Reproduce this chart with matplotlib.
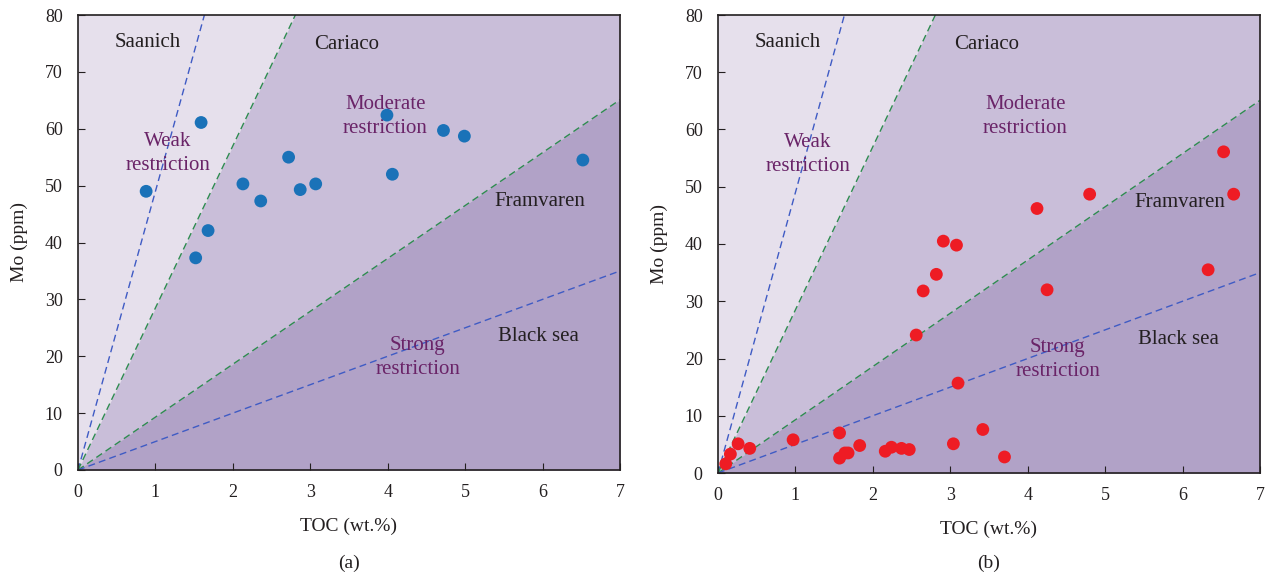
import numpy as np
import matplotlib
matplotlib.use("Agg")
import matplotlib.pyplot as plt

plt.rcParams['font.family'] = ['Liberation Serif', 'DejaVu Serif']

# Reference slopes Mo/TOC for the basins
saanich_slope = 49.0
cariaco_slope = 28.5
framvaren_slope = 9.3
blacksea_slope = 5.0

# Panel (a) samples
toc_a = [0.88, 1.59, 1.68, 1.52, 2.13, 2.36, 2.72, 2.87, 3.07, 3.99, 4.06, 4.72, 4.99, 6.52]
mo_a = [49.0, 61.1, 42.1, 37.3, 50.3, 47.3, 55.0, 49.3, 50.3, 62.4, 52.0, 59.7, 58.7, 54.5]

# Panel (b) samples
toc_b = [6.53, 4.80, 6.66, 4.12, 2.91, 3.08, 2.82, 2.65, 6.33, 4.25, 2.56, 3.10,
         3.42, 3.04, 3.70, 1.57, 1.57, 1.64, 1.68, 1.83, 0.97, 2.16, 2.24, 2.37,
         2.47, 0.26, 0.41, 0.16, 0.10]
mo_b = [56.1, 48.7, 48.7, 46.2, 40.5, 39.8, 34.7, 31.8, 35.5, 32.0, 24.1, 15.7,
        7.6, 5.1, 2.8, 7.0, 2.6, 3.5, 3.5, 4.8, 5.8, 3.8, 4.5, 4.3,
        4.1, 5.1, 4.3, 3.3, 1.6]

x_ticks = [0, 1, 2, 3, 4, 5, 6, 7]
y_ticks = [0, 10, 20, 30, 40, 50, 60, 70, 80]

c_weak = '#E6E0EC'
c_mod = '#C9BED9'
c_strong = '#B1A2C7'
c_blue = '#3F5BC4'
c_green = '#2E8B50'
c_purple = '#6A2468'
c_dark = '#231F20'

fig = plt.figure(figsize=(12.67, 5.78), dpi=100)
ax_a = fig.add_axes([78/1267, 1-470/578, 542/1267, 455/578])
ax_b = fig.add_axes([718/1267, 1-473/578, 542/1267, 458/578])


def draw_panel(ax, toc, mo, color, tag):
    xs = np.linspace(0, 7, 400)
    top = np.full_like(xs, 80.0)
    ax.fill_between(xs, 0, top, color=c_weak, lw=0, zorder=0)
    ax.fill_between(xs, 0, np.minimum(cariaco_slope * xs, 80), color=c_mod, lw=0, zorder=0)
    ax.fill_between(xs, 0, np.minimum(framvaren_slope * xs, 80), color=c_strong, lw=0, zorder=0)
    for s, c in [(saanich_slope, c_blue), (cariaco_slope, c_green),
                 (framvaren_slope, c_green), (blacksea_slope, c_blue)]:
        ax.plot(xs, s * xs, ls=(0, (5, 3)), color=c, lw=1.0, zorder=2)
    ax.scatter(toc, mo, s=85, color=color, zorder=4, edgecolors='none')

    fs = 15
    ls = 1.35
    ax.text(0.90, 75.2, 'Saanich', ha='center', va='center', fontsize=fs, color=c_dark)
    ax.text(3.47, 74.9, 'Cariaco', ha='center', va='center', fontsize=fs, color=c_dark)
    ax.text(3.97, 62.2, 'Moderate\nrestriction', ha='center', va='center', fontsize=fs,
            color=c_purple, linespacing=ls)
    ax.text(1.16, 55.6, 'Weak\nrestriction', ha='center', va='center', fontsize=fs,
            color=c_purple, linespacing=ls)
    ax.text(5.97, 47.2, 'Framvaren', ha='center', va='center', fontsize=fs, color=c_dark)
    ax.text(4.39, 19.8, 'Strong\nrestriction', ha='center', va='center', fontsize=fs,
            color=c_purple, linespacing=ls)
    ax.text(5.95, 23.4, 'Black sea', ha='center', va='center', fontsize=fs, color=c_dark)

    ax.set_xlim(0, 7)
    ax.set_ylim(0, 80)
    ax.set_xticks(x_ticks)
    ax.set_yticks(y_ticks)
    ax.tick_params(direction='in', length=5, labelsize=13, colors=c_dark)
    ax.tick_params(axis='x', pad=10)
    ax.tick_params(axis='y', pad=11)
    for sp in ax.spines.values():
        sp.set_linewidth(1.2)
        sp.set_color(c_dark)
    ax.set_xlabel('TOC (wt.%)', fontsize=14, color=c_dark, labelpad=12)
    ax.set_ylabel('Mo (ppm)', fontsize=14, color=c_dark, labelpad=12)
    bbox = ax.get_position()
    fig.text((bbox.x0 + bbox.x1) / 2, 1 - 563/578, tag, ha='center', va='center',
             fontsize=14, color=c_dark)


draw_panel(ax_a, toc_a, mo_a, '#1A72B8', '(a)')
draw_panel(ax_b, toc_b, mo_b, '#EE1C24', '(b)')

fig.savefig('out.png', dpi=100)
